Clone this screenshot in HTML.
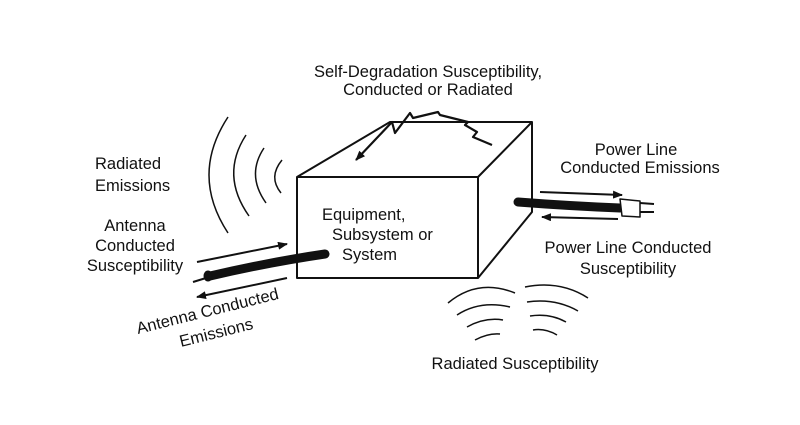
<!DOCTYPE html>
<html><head><style>
body{margin:0;background:#fff}
svg{display:block}
text{font-family:"Liberation Sans",sans-serif;font-size:16.5px;fill:#111}
</style></head><body>
<svg width="800" height="425" viewBox="0 0 800 425">
<defs><marker id="a" markerWidth="10" markerHeight="8" refX="9" refY="4" orient="auto" markerUnits="userSpaceOnUse"><path d="M0,0 L10,4 L0,8 Z" fill="#111"/></marker></defs>
<g stroke="#111" stroke-width="2" fill="none" stroke-linejoin="round">
<path d="M297,177 L478,177 L478,278 L297,278 Z"/>
<path d="M297,177 L390,122 L532,122 L478,177"/>
<path d="M532,122 L532,212 L478,278"/>
<path d="M492,145 L473,137 L477,132 L465,125 L468,122 L440,115 L438,112 L413,118 L410,113 L395,133 L392,122 L356,160" stroke-width="2.2" marker-end="url(#a)"/>
<path d="M228,233 Q190,175 228,117" stroke-width="1.5"/>
<path d="M249,216 Q220,175 246,135" stroke-width="1.5"/>
<path d="M266,203 Q246,175 264,148" stroke-width="1.5"/>
<path d="M281,193 Q268,177 282,160" stroke-width="1.5"/>
<path d="M210,276 Q270,262 325,254" stroke-width="9" stroke-linecap="round"/>
<ellipse cx="208" cy="276" rx="4" ry="5" fill="#111" stroke-width="1"/>
<path d="M193,282 L206,278" stroke-width="2"/>
<path d="M197,262 L287,244" marker-end="url(#a)"/>
<path d="M287,278 L197,297" marker-end="url(#a)"/>
<path d="M518,202 Q570,206 620,208" stroke-width="9" stroke-linecap="round"/>
<path d="M620,199 L640,201 L640,217 L622,216 Z" stroke-width="1.5" fill="#fff"/>
<path d="M640,203 L654,204 M640,212 L654,212" stroke-width="2"/>
<path d="M540,192 L622,195" marker-end="url(#a)"/>
<path d="M618,219 L542,217" marker-end="url(#a)"/>
<g stroke-width="1.5">
<path d="M448,303 Q478,278 515,293"/><path d="M457,315 Q480,300 510,307"/><path d="M467,327 Q485,317 503,320"/><path d="M475,340 Q488,333 500,334"/>
<path d="M525,287 Q560,280 588,298"/><path d="M527,302 Q555,298 578,311"/><path d="M530,316 Q550,313 566,322"/><path d="M533,330 Q545,328 557,335"/>
</g>
</g>
<text x="428" y="77" text-anchor="middle">Self-Degradation Susceptibility,</text>
<text x="428" y="95" text-anchor="middle">Conducted or Radiated</text>
<text x="95" y="169">Radiated</text>
<text x="95" y="191">Emissions</text>
<text x="135" y="231" text-anchor="middle">Antenna</text>
<text x="135" y="251" text-anchor="middle">Conducted</text>
<text x="135" y="271" text-anchor="middle">Susceptibility</text>
<text x="322" y="220">Equipment,</text>
<text x="332" y="240">Subsystem or</text>
<text x="342" y="260">System</text>
<text x="636" y="155" text-anchor="middle">Power Line</text>
<text x="640" y="173" text-anchor="middle">Conducted Emissions</text>
<text x="628" y="253" text-anchor="middle">Power Line Conducted</text>
<text x="628" y="274" text-anchor="middle">Susceptibility</text>
<text x="0" y="0" transform="translate(138,334) rotate(-14)">Antenna Conducted</text>
<text x="0" y="0" transform="translate(181,347) rotate(-14)">Emissions</text>
<text x="515" y="369" text-anchor="middle">Radiated Susceptibility</text>
</svg>
</body></html>
